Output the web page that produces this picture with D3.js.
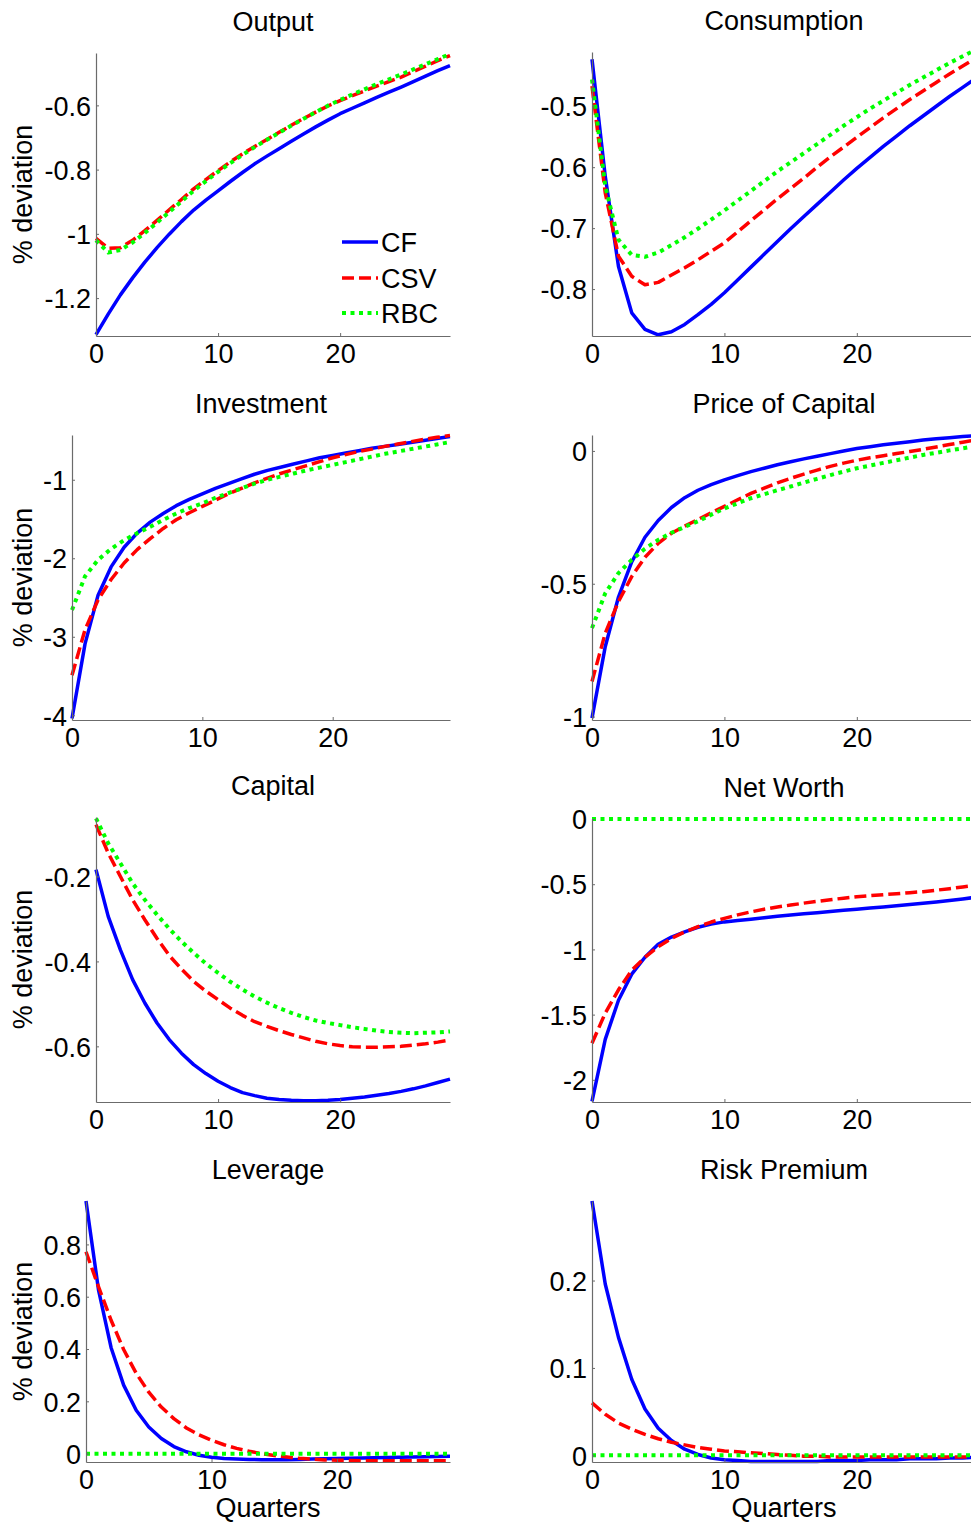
<!DOCTYPE html>
<html><head><meta charset="utf-8">
<script src="https://cdn.jsdelivr.net/npm/d3@7"></script>
<style>
body{margin:0;background:#fff;}
svg{display:block;font-family:"Liberation Sans",Arial,sans-serif;}
</style></head>
<body><svg id="c" width="971" height="1525"></svg>
<script>
const quarters = [0,1,2,3,4,5,6,7,8,9,10,11,12,13,14,15,16,17,18,19,20,21,22,23,24,25,26,27,28,29];
const seriesNames = ["CF","CSV","RBC"];
const panelTitles = ["Output","Consumption","Investment","Price of Capital","Capital","Net Worth","Leverage","Risk Premium"];
const xTicks = [0,10,20];

// Output
const outputCF  = [-1.314,-1.25,-1.19,-1.137,-1.088,-1.043,-1.001,-0.962,-0.926,-0.895,-0.866,-0.837,-0.809,-0.782,-0.758,-0.735,-0.712,-0.689,-0.667,-0.646,-0.626,-0.609,-0.592,-0.575,-0.559,-0.543,-0.526,-0.509,-0.492,-0.476];
const outputCSV = [-1.014,-1.045,-1.043,-1.02,-0.99,-0.958,-0.925,-0.893,-0.86,-0.831,-0.803,-0.776,-0.751,-0.728,-0.706,-0.684,-0.662,-0.641,-0.621,-0.602,-0.585,-0.57,-0.555,-0.54,-0.526,-0.512,-0.495,-0.478,-0.461,-0.445];
const outputRBC = [-1.02,-1.058,-1.05,-1.027,-0.997,-0.965,-0.932,-0.899,-0.866,-0.836,-0.807,-0.78,-0.754,-0.73,-0.707,-0.685,-0.663,-0.642,-0.621,-0.601,-0.583,-0.566,-0.55,-0.534,-0.519,-0.504,-0.488,-0.472,-0.456,-0.44];
// Consumption
const consCF  = [-0.423,-0.615,-0.763,-0.839,-0.866,-0.875,-0.87,-0.858,-0.842,-0.825,-0.806,-0.785,-0.764,-0.743,-0.722,-0.701,-0.681,-0.661,-0.641,-0.621,-0.602,-0.584,-0.566,-0.549,-0.532,-0.516,-0.5,-0.484,-0.469,-0.454];
const consCSV = [-0.467,-0.642,-0.746,-0.779,-0.793,-0.789,-0.777,-0.765,-0.752,-0.738,-0.724,-0.706,-0.688,-0.67,-0.652,-0.635,-0.618,-0.6,-0.583,-0.567,-0.551,-0.535,-0.519,-0.504,-0.489,-0.475,-0.461,-0.447,-0.434,-0.421];
const consRBC = [-0.456,-0.631,-0.719,-0.744,-0.747,-0.74,-0.728,-0.715,-0.701,-0.686,-0.671,-0.655,-0.639,-0.623,-0.607,-0.592,-0.577,-0.562,-0.547,-0.532,-0.518,-0.504,-0.491,-0.478,-0.465,-0.453,-0.441,-0.429,-0.418,-0.407];
// Investment
const invCF  = [-4.04,-3.09,-2.47,-2.11,-1.86,-1.68,-1.54,-1.43,-1.33,-1.25,-1.18,-1.11,-1.05,-0.99,-0.93,-0.88,-0.84,-0.8,-0.76,-0.72,-0.69,-0.66,-0.63,-0.6,-0.575,-0.55,-0.525,-0.5,-0.475,-0.45];
const invCSV = [-3.49,-2.91,-2.53,-2.27,-2.06,-1.89,-1.75,-1.62,-1.51,-1.42,-1.34,-1.26,-1.18,-1.11,-1.04,-0.98,-0.92,-0.87,-0.82,-0.77,-0.72,-0.68,-0.64,-0.61,-0.575,-0.545,-0.515,-0.485,-0.46,-0.435];
const invRBC = [-2.66,-2.23,-2.02,-1.88,-1.77,-1.68,-1.6,-1.51,-1.43,-1.36,-1.3,-1.23,-1.17,-1.11,-1.05,-1.0,-0.96,-0.92,-0.88,-0.845,-0.81,-0.775,-0.74,-0.705,-0.67,-0.64,-0.61,-0.58,-0.55,-0.52];
// Price of Capital
const priceCF  = [-1.006,-0.737,-0.55,-0.418,-0.325,-0.262,-0.213,-0.176,-0.148,-0.127,-0.109,-0.093,-0.078,-0.065,-0.052,-0.041,-0.03,-0.02,-0.01,0.0,0.009,0.016,0.023,0.029,0.035,0.041,0.046,0.05,0.054,0.057];
const priceCSV = [-0.868,-0.686,-0.567,-0.473,-0.4,-0.348,-0.31,-0.283,-0.258,-0.233,-0.209,-0.184,-0.16,-0.14,-0.12,-0.103,-0.087,-0.072,-0.058,-0.046,-0.035,-0.026,-0.018,-0.01,-0.002,0.006,0.015,0.024,0.033,0.042];
const priceRBC = [-0.667,-0.536,-0.46,-0.41,-0.368,-0.335,-0.308,-0.286,-0.265,-0.24,-0.217,-0.197,-0.178,-0.163,-0.148,-0.134,-0.119,-0.105,-0.091,-0.078,-0.065,-0.055,-0.045,-0.035,-0.025,-0.015,-0.007,0.002,0.01,0.018];
// Capital
const capCF  = [-0.184,-0.294,-0.373,-0.443,-0.498,-0.545,-0.584,-0.616,-0.643,-0.664,-0.682,-0.697,-0.709,-0.716,-0.722,-0.725,-0.727,-0.728,-0.728,-0.727,-0.725,-0.722,-0.719,-0.715,-0.711,-0.706,-0.7,-0.693,-0.685,-0.677];
const capCSV = [-0.078,-0.145,-0.2,-0.255,-0.302,-0.346,-0.386,-0.418,-0.447,-0.47,-0.49,-0.51,-0.527,-0.542,-0.553,-0.563,-0.572,-0.58,-0.588,-0.594,-0.598,-0.601,-0.602,-0.602,-0.601,-0.6,-0.597,-0.594,-0.59,-0.585];
const capRBC = [-0.063,-0.122,-0.169,-0.216,-0.255,-0.29,-0.323,-0.353,-0.38,-0.405,-0.427,-0.448,-0.466,-0.483,-0.497,-0.51,-0.521,-0.531,-0.539,-0.545,-0.55,-0.555,-0.559,-0.563,-0.566,-0.568,-0.569,-0.568,-0.567,-0.565];
// Net Worth
const nwCF  = [-2.166,-1.69,-1.39,-1.19,-1.06,-0.96,-0.905,-0.865,-0.83,-0.806,-0.789,-0.778,-0.768,-0.757,-0.746,-0.736,-0.727,-0.718,-0.709,-0.7,-0.692,-0.683,-0.674,-0.665,-0.656,-0.646,-0.636,-0.625,-0.613,-0.6];
const nwCSV = [-1.719,-1.489,-1.31,-1.16,-1.06,-0.98,-0.915,-0.866,-0.826,-0.79,-0.762,-0.735,-0.712,-0.692,-0.675,-0.66,-0.645,-0.632,-0.619,-0.607,-0.596,-0.588,-0.58,-0.573,-0.565,-0.557,-0.546,-0.534,-0.521,-0.509];
const nwRBC = [0,0,0,0,0,0,0,0,0,0,0,0,0,0,0,0,0,0,0,0,0,0,0,0,0,0,0,0,0,0];
// Leverage
const levCF  = [0.966,0.625,0.405,0.262,0.166,0.102,0.058,0.027,0.007,-0.006,-0.014,-0.019,-0.021,-0.022,-0.023,-0.023,-0.023,-0.022,-0.021,-0.02,-0.019,-0.018,-0.017,-0.016,-0.015,-0.014,-0.013,-0.012,-0.011,-0.01];
const levCSV = [0.772,0.638,0.51,0.398,0.307,0.235,0.178,0.134,0.098,0.072,0.051,0.034,0.02,0.009,0.0,-0.007,-0.013,-0.018,-0.021,-0.024,-0.025,-0.026,-0.027,-0.027,-0.027,-0.027,-0.027,-0.027,-0.027,-0.027];
const levRBC = [0,0,0,0,0,0,0,0,0,0,0,0,0,0,0,0,0,0,0,0,0,0,0,0,0,0,0,0,0,0];
// Risk Premium
const rpCF  = [0.291,0.196,0.135,0.087,0.053,0.031,0.017,0.007,0.001,-0.003,-0.005,-0.006,-0.007,-0.007,-0.007,-0.007,-0.007,-0.007,-0.006,-0.006,-0.006,-0.005,-0.005,-0.005,-0.004,-0.004,-0.004,-0.003,-0.003,-0.002];
const rpCSV = [0.06,0.047,0.037,0.03,0.024,0.019,0.015,0.012,0.009,0.007,0.005,0.004,0.003,0.002,0.001,0.0,-0.001,-0.001,-0.002,-0.002,-0.002,-0.002,-0.002,-0.002,-0.002,-0.002,-0.002,-0.002,-0.002,-0.002];
const rpRBC = [0,0,0,0,0,0,0,0,0,0,0,0,0,0,0,0,0,0,0,0,0,0,0,0,0,0,0,0,0,0];

// y tick labels per panel
const yTicksList = [
  [-1.2,-1,-0.8,-0.6],
  [-0.8,-0.7,-0.6,-0.5],
  [-4,-3,-2,-1],
  [-1,-0.5,0],
  [-0.6,-0.4,-0.2],
  [-2,-1.5,-1,-0.5,0],
  [0,0.2,0.4,0.6,0.8],
  [0,0.1,0.2]
];
const yDomains = [
  [-1.318,-0.437],[-0.877,-0.411],
  [-4.06,-0.43],[-1.013,0.06],
  [-0.731,-0.06],[-2.17,0],
  [-0.032,0.966],[-0.0076,0.291]
];
const panelData = [
  [outputCF,outputCSV,outputRBC],[consCF,consCSV,consRBC],
  [invCF,invCSV,invRBC],[priceCF,priceCSV,priceRBC],
  [capCF,capCSV,capRBC],[nwCF,nwCSV,nwRBC],
  [levCF,levCSV,levRBC],[rpCF,rpCSV,rpRBC]
];

// layout (pixels)
const layout = [
  {x0:96, x1:450, top:53,  bottom:336},
  {x0:592,x1:976, top:52,  bottom:336},
  {x0:72, x1:450, top:435, bottom:720},
  {x0:592,x1:976, top:435, bottom:720},
  {x0:96, x1:450, top:817, bottom:1102},
  {x0:592,x1:976, top:819, bottom:1102},
  {x0:86, x1:450, top:1201,bottom:1462},
  {x0:592,x1:976, top:1201,bottom:1462}
];
const styles = [
  {color:"#0000ff", width:3.5, dash:null},
  {color:"#ff0000", width:3.5, dash:"12,5"},
  {color:"#00ff00", width:4,   dash:"4,4.5"}
];
const FS = 27;
const axisColor = "#6b6b6b";

const svg = d3.select("#c");
const fmt = v => String(v);

layout.forEach((L, i) => {
  const x = d3.scaleLinear().domain([0,29]).range([L.x0, L.x1]);
  const y = d3.scaleLinear().domain(yDomains[i]).range([L.bottom, L.top]);
  const g = svg.append("g");

  panelData[i].forEach((arr, s) => {
    const line = d3.line().x((d,k) => x(quarters[k])).y(d => y(d));
    const st = styles[s];
    g.append("path").datum(arr).attr("d", line)
      .attr("fill","none").attr("stroke",st.color).attr("stroke-width",st.width)
      .attr("stroke-dasharray",st.dash).attr("stroke-linejoin","round");
  });

  const ya = g.append("g").attr("transform",`translate(${L.x0},0)`)
    .call(d3.axisLeft(y).tickValues(yTicksList[i]).tickFormat(fmt).tickSizeInner(-3).tickSizeOuter(0).tickPadding(5));
  const xa = g.append("g").attr("transform",`translate(0,${L.bottom})`)
    .call(d3.axisBottom(x).tickValues(xTicks).tickFormat(fmt).tickSizeInner(-3).tickSizeOuter(0).tickPadding(8));
  [ya,xa].forEach(a => {
    a.select(".domain").attr("stroke",axisColor).attr("stroke-width",1.2);
    a.selectAll(".tick line").attr("stroke",axisColor);
    a.selectAll("text").attr("font-size",FS).attr("fill","#000").attr("font-family","Liberation Sans, Arial, sans-serif");
  });
  ya.selectAll("text").attr("dy","0.36em");

  g.append("text").attr("x",(L.x0+L.x1)/2).attr("y",L.top-22)
    .attr("text-anchor","middle").attr("font-size",FS).text(panelTitles[i]);

  if (i % 2 === 0) {
    g.append("text").attr("transform",`translate(32,${(L.top+L.bottom)/2}) rotate(-90)`)
      .attr("text-anchor","middle").attr("font-size",FS).text("% deviation");
  }
  if (i >= 6) {
    g.append("text").attr("x",(L.x0+L.x1)/2).attr("y",1517)
      .attr("text-anchor","middle").attr("font-size",FS).text("Quarters");
  }
});

const legY = [242,278,313];
const lg = svg.append("g");
seriesNames.forEach((n, s) => {
  const st = styles[s];
  lg.append("line").attr("x1",342).attr("x2",378).attr("y1",legY[s]).attr("y2",legY[s])
    .attr("stroke",st.color).attr("stroke-width",st.width).attr("stroke-dasharray",st.dash);
  lg.append("text").attr("x",381).attr("y",legY[s]).attr("dy","0.36em")
    .attr("font-size",FS).text(n);
});
</script></body></html>
